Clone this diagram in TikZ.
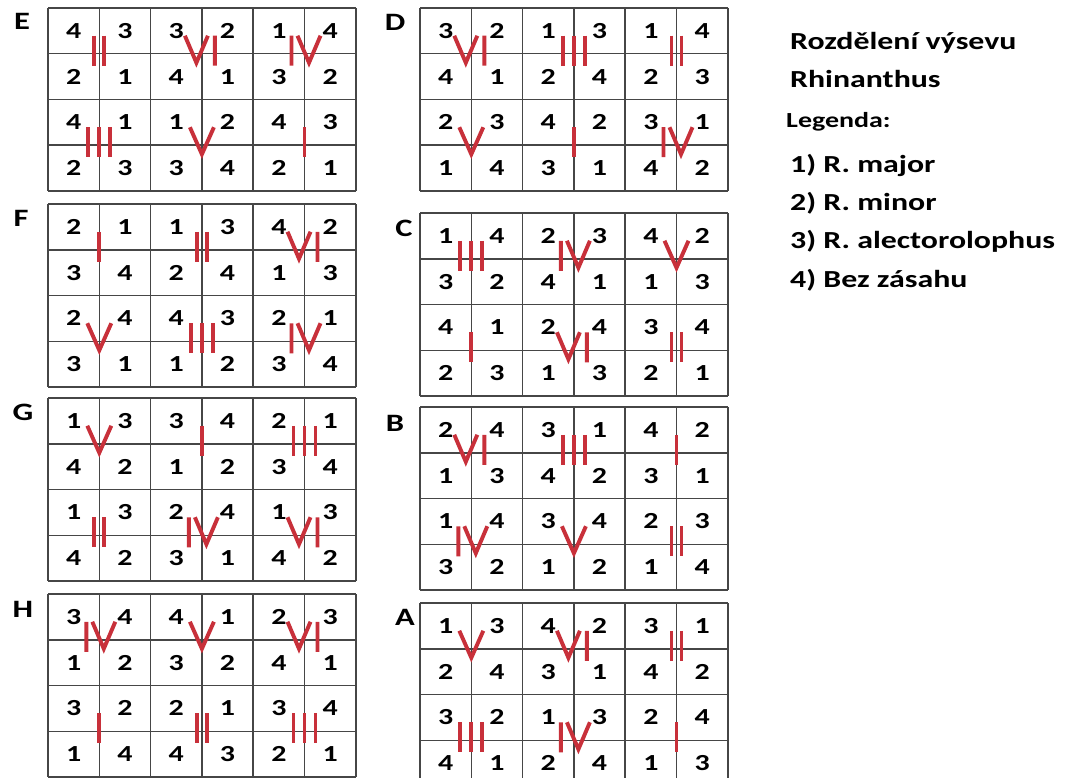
\documentclass[tikz,border=0pt]{standalone}
\usepackage{fontspec}
\newfontfamily\calb{Carlito}[FakeStretch=1.3]
\definecolor{numred}{RGB}{200,48,58}
\definecolor{gridgray}{RGB}{70,70,70}
\def\cellw{51.3}
\def\cellh{45.75}
\tikzset{
  digit/.style={inner sep=0pt, font=\calb\bfseries\fontsize{23}{23}\selectfont},
  lab/.style={inner sep=0pt, font=\calb\bfseries\fontsize{25}{25}\selectfont},
  txt/.style={inner sep=0pt, anchor=base west, font=\calb\bfseries\fontsize{24.5}{24.5}\selectfont},
  txtsmall/.style={inner sep=0pt, anchor=base west, font=\calb\bfseries\fontsize{21.5}{21.5}\selectfont},
  gridline/.style={line width=1.5pt, draw=gridgray},
  numeral/.style={draw=numred, line width=3.9pt},
  numI/.pic={\draw[numeral] (0,-15) -- (0,15);},
  numII/.pic={\draw[numeral] (-5,-15) -- (-5,15) (5,-15) -- (5,15);},
  numIII/.pic={\draw[numeral] (-11,-15) -- (-11,15) (0,-15) -- (0,15) (11,-15) -- (11,15);},
  numIV/.pic={\draw[numeral] (-13,-15) -- (-13,15) (-7,-15) -- (4.5,12) -- (16,-15);},
  numV/.pic={\draw[numeral] (-12,-15) -- (0,12) -- (12,-15);},
  numVI/.pic={\draw[numeral] (-17,-15) -- (-5.5,12) -- (6,-15) (13,-15) -- (13,15);},
}
\newcommand\plotgrid[5]{%
  \foreach \v [count=\i from 0] in {#4} {
    \pgfmathtruncatemacro\rr{int(\i/6)}
    \pgfmathtruncatemacro\cc{mod(\i,6)}
    \node[digit] (#1-\rr-\cc) at ({#2+(\cc+0.5)*\cellw},{#3+(\rr+0.5)*\cellh}) {\v};
  }
  \foreach \k in {0,...,6} {
    \draw[gridline] ({#2+\k*\cellw},#3) -- ({#2+\k*\cellw},{#3+4*\cellh});
  }
  \foreach \k in {0,...,4} {
    \draw[gridline] (#2,{#3+\k*\cellh}) -- ({#2+6*\cellw},{#3+\k*\cellh});
  }
  \foreach \n [count=\k from 0] in {#5} {
    \pgfmathtruncatemacro\br{int(\k/3)}
    \pgfmathtruncatemacro\bc{mod(\k,3)}
    \pic at ({#2+(2*\bc+1)*\cellw},{#3+(2*\br+1)*\cellh-3}) {num\n};
  }
}
\begin{document}
\begin{tikzpicture}[x=1pt,y=-1pt,line cap=butt]
\clip (0,0) rectangle (1067,778);
\fill[white] (0,0) rectangle (1067,778);
% left column
\plotgrid{E}{48}{8}{4,3,3,2,1,4, 2,1,4,1,3,2, 4,1,1,2,4,3, 2,3,3,4,2,1}{II,VI,IV,III,V,I}
\plotgrid{F}{48}{204}{2,1,1,3,4,2, 3,4,2,4,1,3, 2,4,4,3,2,1, 3,1,1,2,3,4}{I,II,VI,V,III,IV}
\plotgrid{G}{48}{398}{1,3,3,4,2,1, 4,2,1,2,3,4, 1,3,2,4,1,3, 4,2,3,1,4,2}{V,I,III,II,IV,VI}
\plotgrid{H}{48}{594}{3,4,4,1,2,3, 1,2,3,2,4,1, 3,2,2,1,3,4, 1,4,4,3,2,1}{IV,V,VI,I,II,III}
% right column
\plotgrid{D}{420}{8}{3,2,1,3,1,4, 4,1,2,4,2,3, 2,3,4,2,3,1, 1,4,3,1,4,2}{VI,III,II,V,I,IV}
\plotgrid{C}{420}{213}{1,4,2,3,4,2, 3,2,4,1,1,3, 4,1,2,4,3,4, 2,3,1,3,2,1}{III,IV,V,I,VI,II}
\plotgrid{B}{420}{407}{2,4,3,1,4,2, 1,3,4,2,3,1, 1,4,3,4,2,3, 3,2,1,2,1,4}{VI,III,I,IV,V,II}
\plotgrid{A}{420}{603}{1,3,4,2,3,1, 2,4,3,1,4,2, 3,2,1,3,2,4, 4,1,2,4,1,3}{V,VI,II,III,IV,I}
% grid labels
\node[lab] (labE) at (22,21) {E};
\node[lab] (labF) at (21,218) {F};
\node[lab] (labG) at (23,412) {G};
\node[lab] (labH) at (23,609) {H};
\node[lab] (labD) at (395,22) {D};
\node[lab] (labC) at (404,228) {C};
\node[lab] (labB) at (395,423) {B};
\node[lab] (labA) at (405,617) {A};
% legend
\node[txt] (title1) at (790,50) {Rozdělení výsevu};
\node[txt] (title2) at (790,88) {Rhinanthus};
\node[txtsmall] (leg) at (786,128) {Legenda:};
\node[txt] (leg1) at (790,173) {1) R. major};
\node[txt] (leg2) at (790,210) {2) R. minor};
\node[txt] (leg3) at (790,248) {3) R. alectorolophus};
\node[txt] (leg4) at (790,287) {4) Bez zásahu};
\end{tikzpicture}
\end{document}
